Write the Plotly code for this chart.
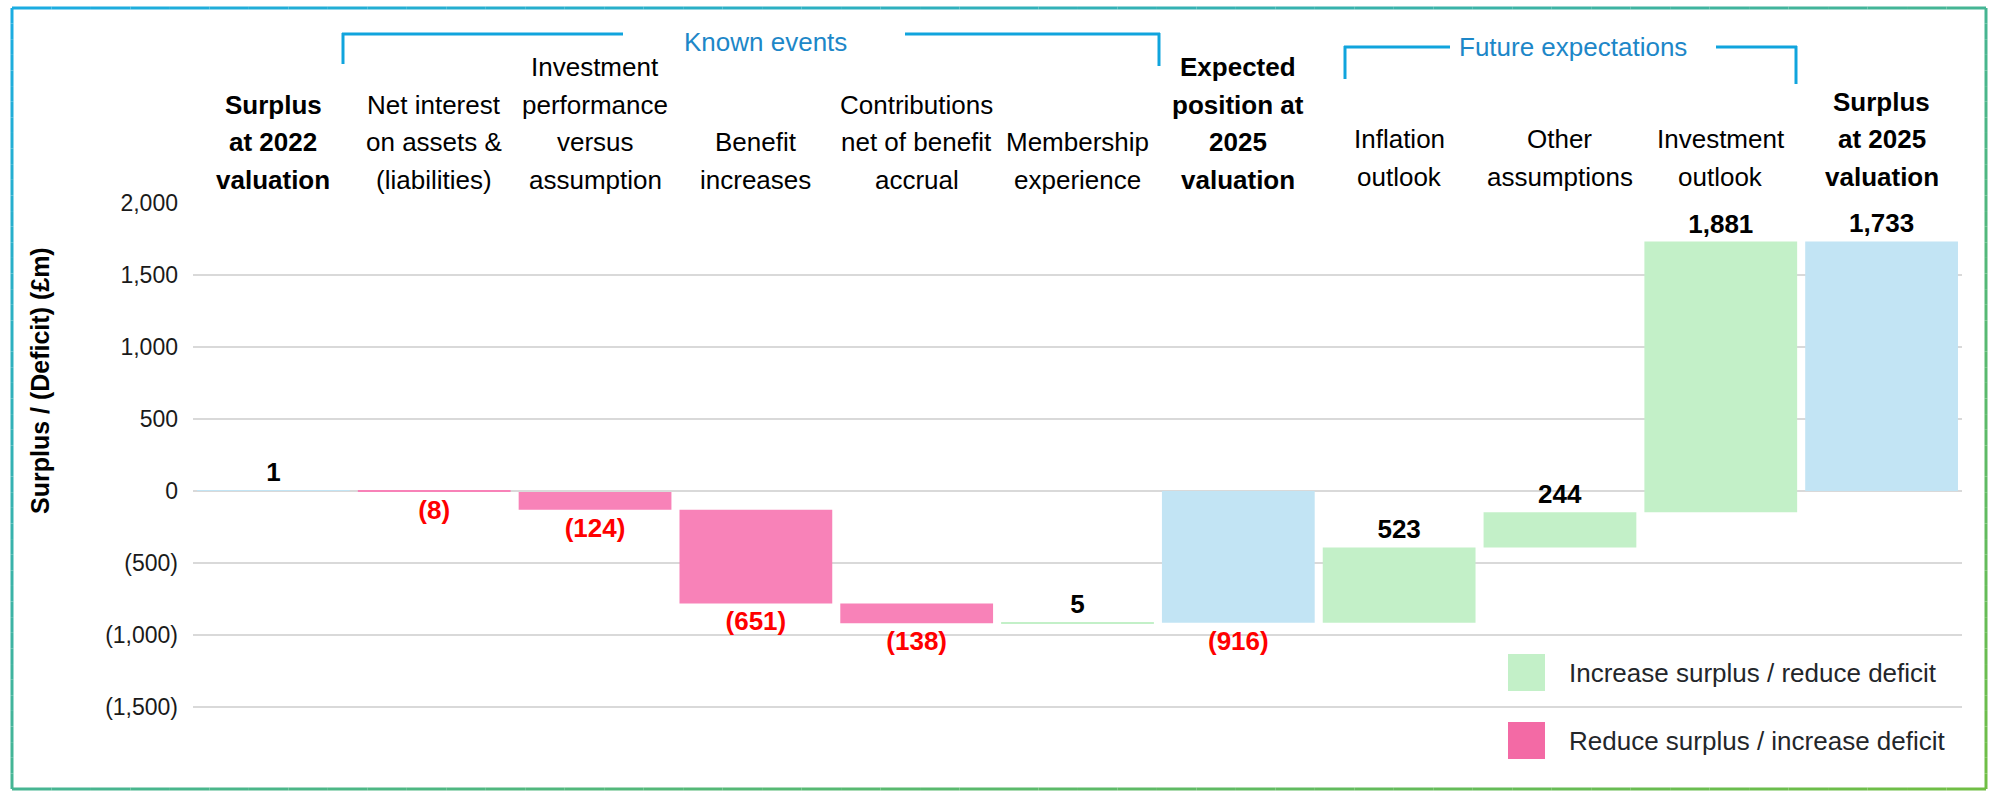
import plotly.graph_objects as go

# ---------------- data ----------------
categories = [
    "Surplus<br>at 2022<br>valuation",
    "Net interest<br>on assets &<br>(liabilities)",
    "Investment<br>performance<br>versus<br>assumption",
    "Benefit<br>increases",
    "Contributions<br>net of benefit<br>accrual",
    "Membership<br>experience",
    "Expected<br>position at<br>2025<br>valuation",
    "Inflation<br>outlook",
    "Other<br>assumptions",
    "Investment<br>outlook",
    "Surplus<br>at 2025<br>valuation",
]
values = [1, -8, -124, -651, -138, 5, -916, 523, 244, 1881, 1733]
measures = ["absolute", "relative", "relative", "relative", "relative", "relative",
            "absolute", "relative", "relative", "relative", "absolute"]
bold_categories = [True, False, False, False, False, False, True, False, False, False, True]
y_tickvals = [2000, 1500, 1000, 500, 0, -500, -1000, -1500]
y_ticktext = ["2,000", "1,500", "1,000", "500", "0", "(500)", "(1,000)", "(1,500)"]
y_title = "Surplus / (Deficit) (£m)"
legend_labels = ["Increase surplus / reduce deficit", "Reduce surplus / increase deficit"]
group_labels = ["Known events", "Future expectations"]

# ---------------- style ----------------
FONT = "Liberation Sans, Arial, Helvetica, sans-serif"
GREEN = "#C3F0C8"
PINK = "#F882B8"
PINK_LEG = "#F36AA5"
BLUE = "#C2E4F4"
BRACKET = "#10A4DD"
GROUP_TXT = "#1D87C8"

W, H = 1993, 792
L, R = 193, 1962     # plot area (px)
T, B = 203, 750


def fmt(v):
    s = f"{abs(v):,}"
    return f"({s})" if v < 0 else s


def px(xp):
    return (xp - L) / (R - L)


def py(yp):
    return (B - yp) / (B - T)


fig = go.Figure(go.Waterfall(
    x=categories,
    y=values,
    measure=measures,
    text=[f"<b>{fmt(v)}</b>" for v in values],
    textposition="outside",
    textfont=dict(family=FONT, size=26,
                  color=["#FF0000" if v < 0 else "#000000" for v in values]),
    increasing=dict(marker=dict(color=GREEN)),
    decreasing=dict(marker=dict(color=PINK)),
    totals=dict(marker=dict(color=BLUE)),
    connector=dict(visible=False),
    cliponaxis=False,
    constraintext="none",
    showlegend=False,
    hoverinfo="skip",
))

shapes = []
annotations = []

# category headers (one annotation per line for exact line pitch)
for i, cat in enumerate(categories):
    lines = cat.split("<br>")
    n = len(lines)
    base = 180 if i < 7 else 177
    for k, line in enumerate(lines):
        yp = base - (n - 1 - k) * 37.7
        txt = f"<b>{line}</b>" if bold_categories[i] else line
        annotations.append(dict(
            x=cat, xref="x", y=py(yp), yref="paper", text=txt, showarrow=False,
            xanchor="center", yanchor="middle",
            font=dict(family=FONT, size=26, color="#000000"),
        ))

# group brackets
def hline(x0, x1, yp):
    shapes.append(dict(type="line", xref="paper", yref="paper", x0=px(x0), x1=px(x1),
                       y0=py(yp), y1=py(yp), line=dict(color=BRACKET, width=3)))


def vline(xp, y0, y1):
    shapes.append(dict(type="line", xref="paper", yref="paper", x0=px(xp), x1=px(xp),
                       y0=py(y0), y1=py(y1), line=dict(color=BRACKET, width=3)))


hline(342, 623, 34); hline(905, 1160, 34); vline(343, 33, 64); vline(1159, 33, 66)
hline(1344, 1450, 47); hline(1716, 1797, 47); vline(1345, 46, 79); vline(1796, 46, 84)
annotations.append(dict(x=px(765), y=py(42), xref="paper", yref="paper", text=group_labels[0],
                        showarrow=False, xanchor="center", yanchor="middle",
                        font=dict(family=FONT, size=26, color=GROUP_TXT)))
annotations.append(dict(x=px(1573), y=py(47), xref="paper", yref="paper", text=group_labels[1],
                        showarrow=False, xanchor="center", yanchor="middle",
                        font=dict(family=FONT, size=26, color=GROUP_TXT)))

# y-axis title
annotations.append(dict(x=px(40), y=py(381), xref="paper", yref="paper",
                        text=f"<b>{y_title}</b>", textangle=-90, showarrow=False,
                        xanchor="center", yanchor="middle",
                        font=dict(family=FONT, size=25, color="#000000")))

# custom legend
for (label, col, y0, y1) in [(legend_labels[0], GREEN, 654, 691), (legend_labels[1], PINK_LEG, 722, 759)]:
    shapes.append(dict(type="rect", xref="paper", yref="paper", x0=px(1508), x1=px(1545),
                       y0=py(y1), y1=py(y0), fillcolor=col, line=dict(width=0)))
    annotations.append(dict(x=px(1567), y=py((y0 + y1) / 2), xref="paper", yref="paper",
                            text=label, showarrow=False, xanchor="left", yanchor="middle",
                            font=dict(family=FONT, size=26, color="#23262A")))

# gradient border (blue top-left -> green bottom-right)
BX0, BY0, BX1, BY1 = 12, 8, 1986, 789
c0 = (27, 172, 226)
c1 = (112, 190, 68)


def grad(xp, yp):
    t = ((xp - BX0) / (BX1 - BX0) + (yp - BY0) / (BY1 - BY0)) / 2
    return "rgb(%d,%d,%d)" % tuple(round(a + (b - a) * t) for a, b in zip(c0, c1))


N = 50
for side in range(4):
    for j in range(N):
        a, b = j / N, (j + 1) / N
        if side == 0:
            p0, p1 = (BX0 + a * (BX1 - BX0), BY0), (BX0 + b * (BX1 - BX0), BY0)
        elif side == 1:
            p0, p1 = (BX0 + a * (BX1 - BX0), BY1), (BX0 + b * (BX1 - BX0), BY1)
        elif side == 2:
            p0, p1 = (BX0, BY0 + a * (BY1 - BY0)), (BX0, BY0 + b * (BY1 - BY0))
        else:
            p0, p1 = (BX1, BY0 + a * (BY1 - BY0)), (BX1, BY0 + b * (BY1 - BY0))
        col = grad((p0[0] + p1[0]) / 2, (p0[1] + p1[1]) / 2)
        shapes.append(dict(type="line", xref="paper", yref="paper",
                           x0=px(p0[0]), x1=px(p1[0]), y0=py(p0[1]), y1=py(p1[1]),
                           line=dict(color=col, width=3), layer="above"))

fig.update_layout(
    width=W, height=H,
    margin=dict(l=L, r=W - R, t=T, b=H - B, pad=0),
    paper_bgcolor="white", plot_bgcolor="white",
    waterfallgap=0.05,
    font=dict(family=FONT),
    xaxis=dict(showticklabels=False, showgrid=False, zeroline=False, showline=False,
               range=[-0.5, 10.5], fixedrange=True),
    yaxis=dict(range=[-1800, 2000], tickvals=y_tickvals, ticktext=y_ticktext,
               gridcolor="#D9D9D9", gridwidth=2, zeroline=False, showline=False,
               ticklabelstandoff=14,
               tickfont=dict(family=FONT, size=23, color="#1A1A1A")),
    shapes=shapes,
    annotations=annotations,
    showlegend=False,
)

fig.write_html("out.html", config=dict(displayModeBar=False),
               post_script="document.body.style.margin='0';document.body.style.overflow='hidden';")
